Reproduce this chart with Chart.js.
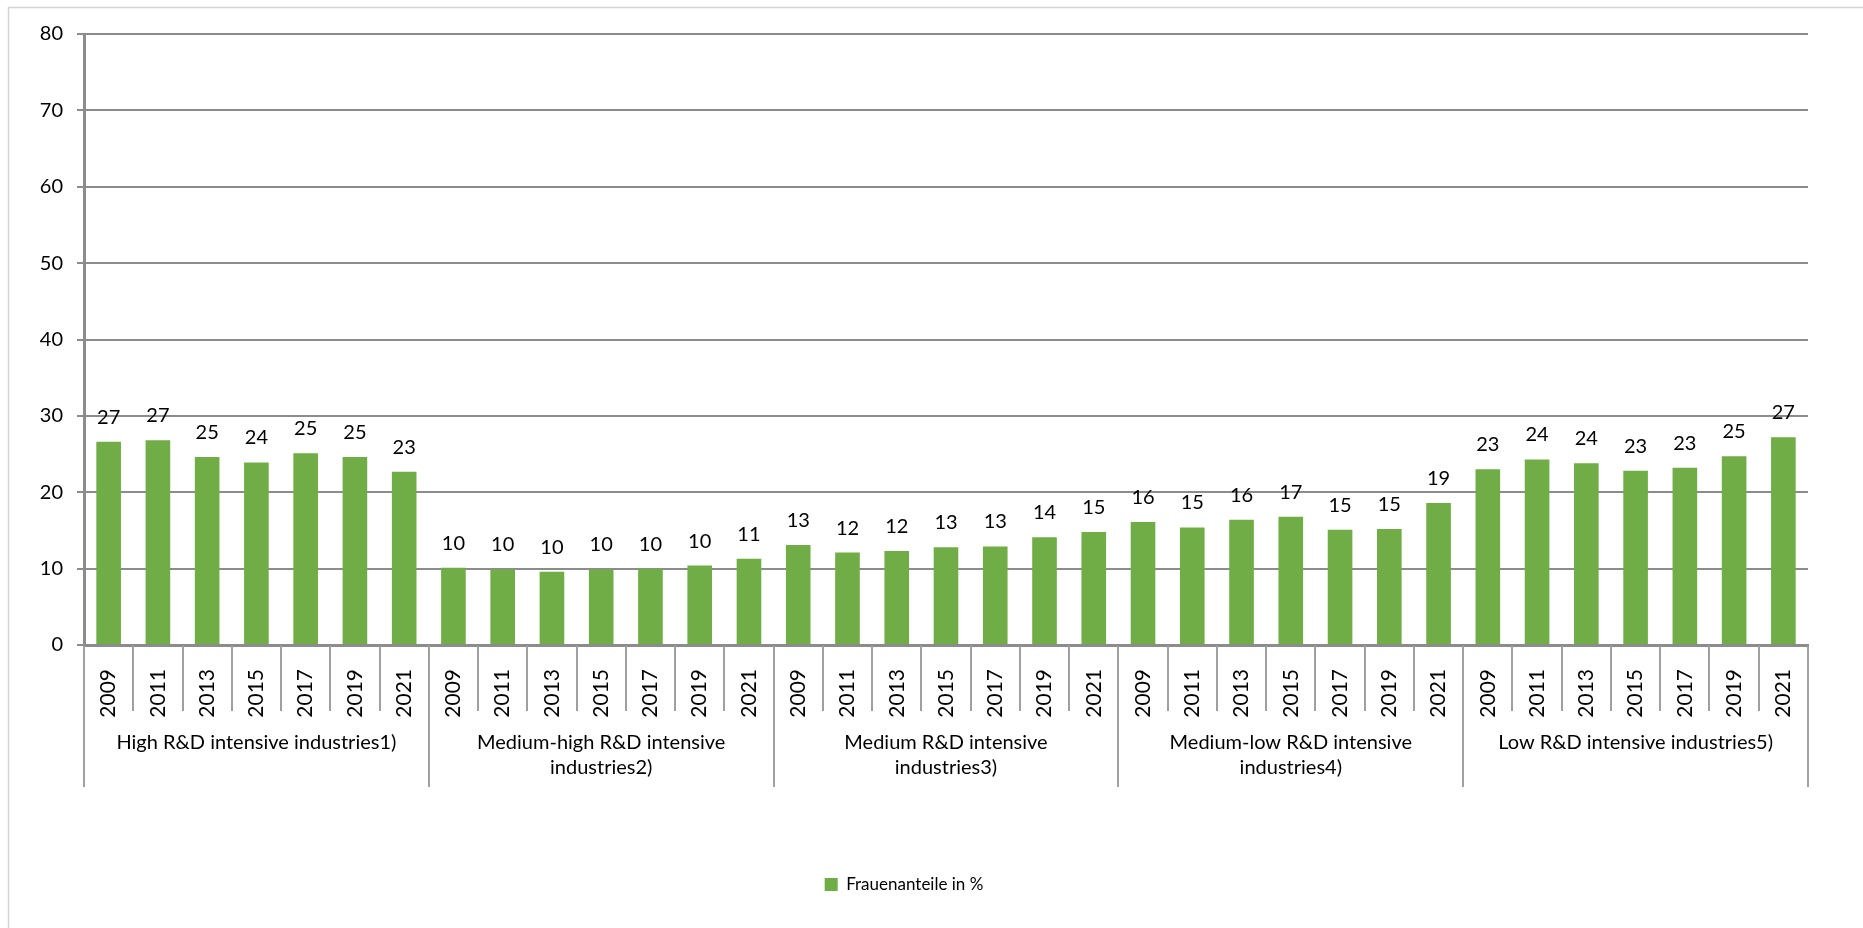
<!DOCTYPE html>
<html>
<head>
<meta charset="utf-8">
<script src="https://cdn.jsdelivr.net/npm/chart.js@4.4.1/dist/chart.umd.min.js"></script>
<style>
  html, body { margin: 0; padding: 0; background: #fff; }
  canvas { display: block; }
</style>
</head>
<body>
<canvas id="chart" width="1863" height="928"></canvas>
<script>
const years = ['2009', '2011', '2013', '2015', '2017', '2019', '2021'];
const groups = [
    ['High R&D intensive industries1)'],
    ['Medium-high R&D intensive', 'industries2)'],
    ['Medium R&D intensive', 'industries3)'],
    ['Medium-low R&D intensive', 'industries4)'],
    ['Low R&D intensive industries5)'],
];
const highValues = [26.6, 26.8, 24.6, 23.9, 25.1, 24.6, 22.7];
const mediumHighValues = [10.1, 9.9, 9.6, 9.9, 10.0, 10.4, 11.3];
const mediumValues = [13.1, 12.1, 12.3, 12.8, 12.9, 14.1, 14.8];
const mediumLowValues = [16.1, 15.4, 16.4, 16.8, 15.1, 15.2, 18.6];
const lowValues = [23.0, 24.3, 23.8, 22.8, 23.2, 24.7, 27.2];
const yTicks = [0, 10, 20, 30, 40, 50, 60, 70, 80];
const seriesName = 'Frauenanteile in %';

const labels = [];
groups.forEach(() => years.forEach(y => labels.push(y)));
const values = [].concat(highValues, mediumHighValues, mediumValues, mediumLowValues, lowValues);

const FONT = 'Lato, "Noto Sans", sans-serif';
const GRID = '#8c8c8c';
const SEP = '#a0a0a0';

// outer frame, year separators, group separators and group names
const framePlugin = {
    id: 'frame',
    beforeDraw(chart) {
        const c = chart.ctx;
        c.save();
        c.strokeStyle = '#d4d4d4';
        c.lineWidth = 1.5;
        c.beginPath();
        c.moveTo(8.5, chart.height);
        c.lineTo(8.5, 7.5);
        c.lineTo(chart.width, 7.5);
        c.stroke();
        c.restore();
    },
    afterDraw(chart) {
        const c = chart.ctx;
        const x = chart.scales.x;
        const bottom = chart.chartArea.bottom;
        c.save();
        c.strokeStyle = SEP;
        c.lineWidth = 2;
        for (let i = 0; i <= labels.length; i++) {
            const px = Math.round(x.getPixelForValue(i - 0.5));
            const long = i % years.length === 0;
            c.beginPath();
            c.moveTo(px, bottom + 1);
            c.lineTo(px, bottom + (long ? 142 : 66));
            c.stroke();
        }
        c.fillStyle = '#000';
        c.font = '20px ' + FONT;
        c.textAlign = 'center';
        c.textBaseline = 'middle';
        groups.forEach((lines, g) => {
            const start = x.getPixelForValue(g * years.length - 0.5);
            const end = x.getPixelForValue((g + 1) * years.length - 0.5);
            lines.forEach((line, k) => {
                c.fillText(line, (start + end) / 2, bottom + 98 + k * 25);
            });
        });
        c.restore();
    },
    afterDatasetsDraw(chart) {
        const c = chart.ctx;
        const meta = chart.getDatasetMeta(0);
        c.save();
        c.fillStyle = '#000';
        c.font = '20px ' + FONT;
        c.textAlign = 'center';
        c.textBaseline = 'alphabetic';
        meta.data.forEach((bar, i) => {
            c.fillText(String(Math.round(values[i])), bar.x, bar.y - 18);
        });
        c.restore();
    },
};

const ctx = document.getElementById('chart').getContext('2d');

new Chart(ctx, {
    type: 'bar',
    data: {
        labels: labels,
        datasets: [{
            label: seriesName,
            data: values,
            backgroundColor: '#70ad47',
            borderWidth: 0,
            barPercentage: 0.5,
            categoryPercentage: 1.0,
        }],
    },
    options: {
        responsive: false,
        animation: false,
        devicePixelRatio: 1,
        layout: {
            padding: { left: 0, right: 55, top: 34, bottom: 25 },
        },
        plugins: {
            legend: {
                position: 'bottom',
                labels: {
                    boxWidth: 13,
                    boxHeight: 13,
                    padding: 10,
                    color: '#000',
                    font: { family: FONT, size: 17 },
                },
            },
            tooltip: { enabled: false },
        },
        scales: {
            x: {
                grid: { display: false },
                border: { display: true, color: GRID, width: 3 },
                ticks: {
                    autoSkip: false,
                    minRotation: 90,
                    maxRotation: 90,
                    padding: 16,
                    color: '#000',
                    font: { family: FONT, size: 21 },
                },
                afterFit(scale) {
                    scale.height = 221;
                },
            },
            y: {
                min: 0,
                max: 80,
                afterBuildTicks(scale) {
                    scale.ticks = yTicks.map(v => ({ value: v }));
                },
                grid: {
                    color: GRID,
                    lineWidth: 2,
                    tickLength: 7,
                },
                border: { display: true, color: GRID, width: 3 },
                ticks: {
                    padding: 14,
                    color: '#000',
                    font: { family: FONT, size: 20 },
                },
                afterFit(scale) {
                    scale.width = 84;
                },
            },
        },
    },
    plugins: [framePlugin],
});
</script>
</body>
</html>
